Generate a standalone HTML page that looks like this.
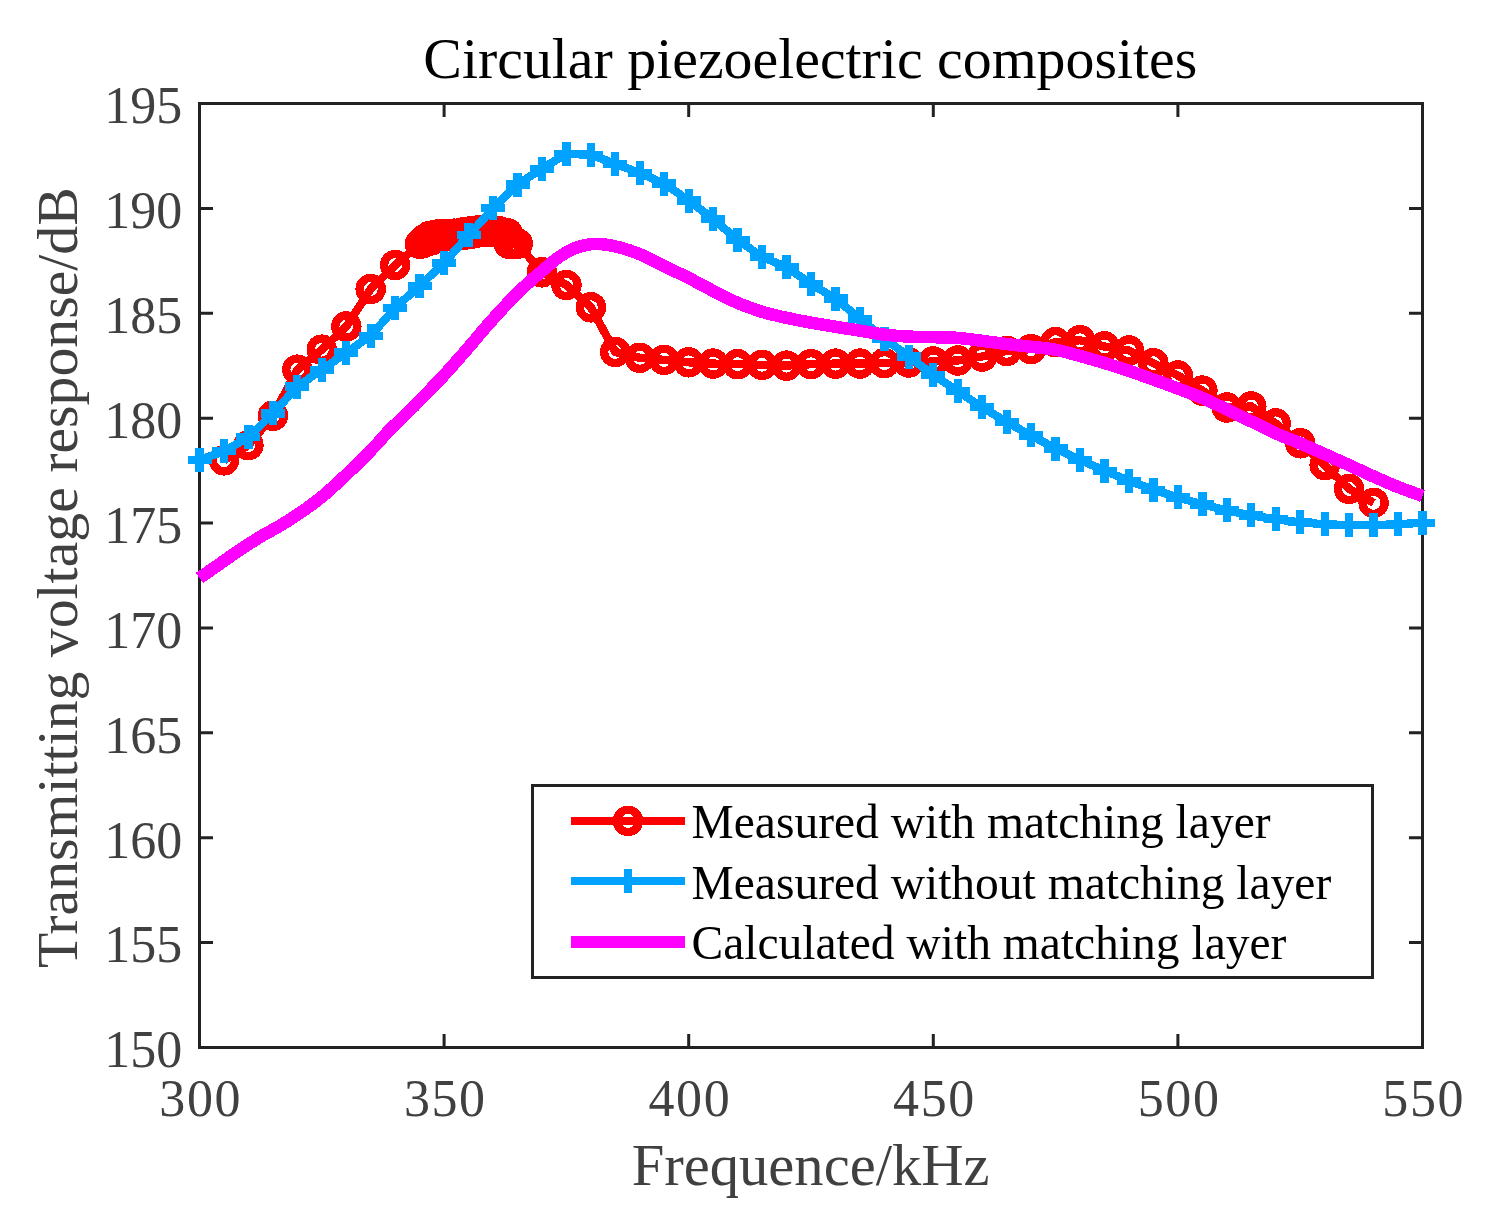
<!DOCTYPE html>
<html lang="en"><head><meta charset="utf-8"><title>Circular piezoelectric composites</title>
<style>html,body{margin:0;padding:0;background:#fff}svg{display:block}text{font-family:"Liberation Serif",serif}</style></head><body>
<svg width="1510" height="1224" viewBox="0 0 1510 1224">
<rect width="1510" height="1224" fill="#fff"/>
<g stroke="#222222" stroke-width="3" fill="none" stroke-linecap="butt">
<rect x="199.5" y="103.5" width="1223.0" height="944.0"/>
<path d="M444.1 1047.5v-13.5M444.1 103.5v13.5"/>
<path d="M688.7 1047.5v-13.5M688.7 103.5v13.5"/>
<path d="M933.3 1047.5v-13.5M933.3 103.5v13.5"/>
<path d="M1177.9 1047.5v-13.5M1177.9 103.5v13.5"/>
<path d="M199.5 942.6h13.5M1422.5 942.6h-13.5"/>
<path d="M199.5 837.7h13.5M1422.5 837.7h-13.5"/>
<path d="M199.5 732.8h13.5M1422.5 732.8h-13.5"/>
<path d="M199.5 627.9h13.5M1422.5 627.9h-13.5"/>
<path d="M199.5 523.1h13.5M1422.5 523.1h-13.5"/>
<path d="M199.5 418.2h13.5M1422.5 418.2h-13.5"/>
<path d="M199.5 313.3h13.5M1422.5 313.3h-13.5"/>
<path d="M199.5 208.4h13.5M1422.5 208.4h-13.5"/>
</g>
<defs><clipPath id="ax"><rect x="198.0" y="102.0" width="1226.5" height="947.0"/></clipPath></defs>
<g shape-rendering="crispEdges" fill="none" stroke-linejoin="round">
<polyline clip-path="url(#ax)" stroke="#fd0000" stroke-width="8.33" points="224.0,460.3 248.4,445.2 272.9,415.8 297.3,369.7 321.8,349.7 346.3,326.5 370.7,289.0 395.2,265.1 419.9,243.9 422.4,243.2 424.8,238.9 427.2,241.5 429.7,235.9 432.0,240.0 434.6,234.9 437.0,238.0 439.5,234.1 442.0,236.8 444.4,233.9 447.0,236.2 449.2,233.9 452.0,235.6 454.1,233.7 457.0,235.4 459.0,233.4 462.0,235.0 463.9,232.4 467.0,234.3 468.8,231.6 472.0,233.5 473.7,230.9 477.0,232.5 478.6,230.4 482.0,232.0 483.5,230.4 487.0,231.8 488.4,230.4 491.0,231.5 493.2,230.4 498.1,230.9 503.0,232.4 507.9,233.4 508.7,243.6 510.7,243.8 512.8,243.6 515.2,243.8 517.6,243.6 541.9,272.3 566.4,285.0 590.9,307.3 615.3,352.0 639.8,357.8 664.2,359.9 688.7,362.3 713.2,363.6 737.6,364.2 762.1,364.8 786.5,365.6 811.0,364.2 835.5,363.6 859.9,363.6 884.4,363.1 908.8,362.5 933.3,361.5 957.8,360.5 982.2,356.5 1006.7,350.9 1031.1,349.1 1055.6,342.2 1080.1,340.2 1104.5,346.5 1129.0,350.5 1153.4,363.2 1177.9,375.5 1202.4,390.6 1226.8,407.5 1251.3,406.5 1275.7,423.4 1300.2,443.3 1324.7,465.1 1349.1,488.9 1373.6,502.9"/>
<g stroke="#fd0000" stroke-width="8.33">
<circle cx="224.0" cy="460.3" r="11.1"/>
<circle cx="248.4" cy="445.2" r="11.1"/>
<circle cx="272.9" cy="415.8" r="11.1"/>
<circle cx="297.3" cy="369.7" r="11.1"/>
<circle cx="321.8" cy="349.7" r="11.1"/>
<circle cx="346.3" cy="326.5" r="11.1"/>
<circle cx="370.7" cy="289.0" r="11.1"/>
<circle cx="395.2" cy="265.1" r="11.1"/>
<circle cx="419.9" cy="243.9" r="11.1"/>
<circle cx="422.4" cy="243.2" r="11.1"/>
<circle cx="424.8" cy="238.9" r="11.1"/>
<circle cx="427.2" cy="241.5" r="11.1"/>
<circle cx="429.7" cy="235.9" r="11.1"/>
<circle cx="432.0" cy="240.0" r="11.1"/>
<circle cx="434.6" cy="234.9" r="11.1"/>
<circle cx="437.0" cy="238.0" r="11.1"/>
<circle cx="439.5" cy="234.1" r="11.1"/>
<circle cx="442.0" cy="236.8" r="11.1"/>
<circle cx="444.4" cy="233.9" r="11.1"/>
<circle cx="447.0" cy="236.2" r="11.1"/>
<circle cx="449.2" cy="233.9" r="11.1"/>
<circle cx="452.0" cy="235.6" r="11.1"/>
<circle cx="454.1" cy="233.7" r="11.1"/>
<circle cx="457.0" cy="235.4" r="11.1"/>
<circle cx="459.0" cy="233.4" r="11.1"/>
<circle cx="462.0" cy="235.0" r="11.1"/>
<circle cx="463.9" cy="232.4" r="11.1"/>
<circle cx="467.0" cy="234.3" r="11.1"/>
<circle cx="468.8" cy="231.6" r="11.1"/>
<circle cx="472.0" cy="233.5" r="11.1"/>
<circle cx="473.7" cy="230.9" r="11.1"/>
<circle cx="477.0" cy="232.5" r="11.1"/>
<circle cx="478.6" cy="230.4" r="11.1"/>
<circle cx="482.0" cy="232.0" r="11.1"/>
<circle cx="483.5" cy="230.4" r="11.1"/>
<circle cx="487.0" cy="231.8" r="11.1"/>
<circle cx="488.4" cy="230.4" r="11.1"/>
<circle cx="491.0" cy="231.5" r="11.1"/>
<circle cx="493.2" cy="230.4" r="11.1"/>
<circle cx="498.1" cy="230.9" r="11.1"/>
<circle cx="503.0" cy="232.4" r="11.1"/>
<circle cx="507.9" cy="233.4" r="11.1"/>
<circle cx="508.7" cy="243.6" r="11.1"/>
<circle cx="510.7" cy="243.8" r="11.1"/>
<circle cx="512.8" cy="243.6" r="11.1"/>
<circle cx="515.2" cy="243.8" r="11.1"/>
<circle cx="517.6" cy="243.6" r="11.1"/>
<circle cx="541.9" cy="272.3" r="11.1"/>
<circle cx="566.4" cy="285.0" r="11.1"/>
<circle cx="590.9" cy="307.3" r="11.1"/>
<circle cx="615.3" cy="352.0" r="11.1"/>
<circle cx="639.8" cy="357.8" r="11.1"/>
<circle cx="664.2" cy="359.9" r="11.1"/>
<circle cx="688.7" cy="362.3" r="11.1"/>
<circle cx="713.2" cy="363.6" r="11.1"/>
<circle cx="737.6" cy="364.2" r="11.1"/>
<circle cx="762.1" cy="364.8" r="11.1"/>
<circle cx="786.5" cy="365.6" r="11.1"/>
<circle cx="811.0" cy="364.2" r="11.1"/>
<circle cx="835.5" cy="363.6" r="11.1"/>
<circle cx="859.9" cy="363.6" r="11.1"/>
<circle cx="884.4" cy="363.1" r="11.1"/>
<circle cx="908.8" cy="362.5" r="11.1"/>
<circle cx="933.3" cy="361.5" r="11.1"/>
<circle cx="957.8" cy="360.5" r="11.1"/>
<circle cx="982.2" cy="356.5" r="11.1"/>
<circle cx="1006.7" cy="350.9" r="11.1"/>
<circle cx="1031.1" cy="349.1" r="11.1"/>
<circle cx="1055.6" cy="342.2" r="11.1"/>
<circle cx="1080.1" cy="340.2" r="11.1"/>
<circle cx="1104.5" cy="346.5" r="11.1"/>
<circle cx="1129.0" cy="350.5" r="11.1"/>
<circle cx="1153.4" cy="363.2" r="11.1"/>
<circle cx="1177.9" cy="375.5" r="11.1"/>
<circle cx="1202.4" cy="390.6" r="11.1"/>
<circle cx="1226.8" cy="407.5" r="11.1"/>
<circle cx="1251.3" cy="406.5" r="11.1"/>
<circle cx="1275.7" cy="423.4" r="11.1"/>
<circle cx="1300.2" cy="443.3" r="11.1"/>
<circle cx="1324.7" cy="465.1" r="11.1"/>
<circle cx="1349.1" cy="488.9" r="11.1"/>
<circle cx="1373.6" cy="502.9" r="11.1"/>
</g>
<polyline clip-path="url(#ax)" stroke="#00a2ff" stroke-width="8.33" points="199.5,460.1 224.0,451.2 248.4,437.3 272.9,413.4 297.3,386.6 321.8,369.7 346.3,352.6 370.7,335.8 395.2,307.8 419.6,285.8 444.1,263.0 468.6,235.3 493.0,208.3 517.5,184.6 541.9,168.7 566.4,153.8 590.9,154.8 615.3,163.8 639.8,173.0 664.2,183.6 688.7,200.5 713.2,219.0 737.6,239.9 762.1,256.8 786.5,267.1 811.0,284.0 835.5,298.5 859.9,318.8 884.4,338.6 908.8,356.5 933.3,375.0 957.8,391.3 982.2,407.2 1006.7,422.1 1031.1,435.4 1055.6,448.5 1080.1,459.8 1104.5,470.7 1129.0,480.7 1153.4,489.7 1177.9,497.4 1202.4,504.4 1226.8,510.4 1251.3,515.4 1275.7,519.3 1300.2,522.3 1324.7,524.3 1349.1,525.3 1373.6,525.3 1398.0,524.3 1422.5,522.7"/>
<path stroke="#00a2ff" stroke-width="8.33" d="M187.5 460.1h24.0M199.5 448.1v24.0M212.0 451.2h24.0M224.0 439.2v24.0M236.4 437.3h24.0M248.4 425.3v24.0M260.9 413.4h24.0M272.9 401.4v24.0M285.3 386.6h24.0M297.3 374.6v24.0M309.8 369.7h24.0M321.8 357.7v24.0M334.3 352.6h24.0M346.3 340.6v24.0M358.7 335.8h24.0M370.7 323.8v24.0M383.2 307.8h24.0M395.2 295.8v24.0M407.6 285.8h24.0M419.6 273.8v24.0M432.1 263.0h24.0M444.1 251.0v24.0M456.6 235.3h24.0M468.6 223.3v24.0M481.0 208.3h24.0M493.0 196.3v24.0M505.5 184.6h24.0M517.5 172.6v24.0M529.9 168.7h24.0M541.9 156.7v24.0M554.4 153.8h24.0M566.4 141.8v24.0M578.9 154.8h24.0M590.9 142.8v24.0M603.3 163.8h24.0M615.3 151.8v24.0M627.8 173.0h24.0M639.8 161.0v24.0M652.2 183.6h24.0M664.2 171.6v24.0M676.7 200.5h24.0M688.7 188.5v24.0M701.2 219.0h24.0M713.2 207.0v24.0M725.6 239.9h24.0M737.6 227.9v24.0M750.1 256.8h24.0M762.1 244.8v24.0M774.5 267.1h24.0M786.5 255.1v24.0M799.0 284.0h24.0M811.0 272.0v24.0M823.5 298.5h24.0M835.5 286.5v24.0M847.9 318.8h24.0M859.9 306.8v24.0M872.4 338.6h24.0M884.4 326.6v24.0M896.8 356.5h24.0M908.8 344.5v24.0M921.3 375.0h24.0M933.3 363.0v24.0M945.8 391.3h24.0M957.8 379.3v24.0M970.2 407.2h24.0M982.2 395.2v24.0M994.7 422.1h24.0M1006.7 410.1v24.0M1019.1 435.4h24.0M1031.1 423.4v24.0M1043.6 448.5h24.0M1055.6 436.5v24.0M1068.1 459.8h24.0M1080.1 447.8v24.0M1092.5 470.7h24.0M1104.5 458.7v24.0M1117.0 480.7h24.0M1129.0 468.7v24.0M1141.4 489.7h24.0M1153.4 477.7v24.0M1165.9 497.4h24.0M1177.9 485.4v24.0M1190.4 504.4h24.0M1202.4 492.4v24.0M1214.8 510.4h24.0M1226.8 498.4v24.0M1239.3 515.4h24.0M1251.3 503.4v24.0M1263.7 519.3h24.0M1275.7 507.3v24.0M1288.2 522.3h24.0M1300.2 510.3v24.0M1312.7 524.3h24.0M1324.7 512.3v24.0M1337.1 525.3h24.0M1349.1 513.3v24.0M1361.6 525.3h24.0M1373.6 513.3v24.0M1386.0 524.3h24.0M1398.0 512.3v24.0M1410.5 522.7h24.0M1422.5 510.7v24.0"/>
<path stroke="#ff00ff" stroke-width="12.50" stroke-linecap="butt" d="M199.5 578.0C202.9 575.6 213.2 568.5 219.9 563.8C226.6 559.1 233.2 554.3 239.8 549.9C246.5 545.5 253.2 541.1 259.8 537.1C266.4 533.1 273.1 529.9 279.7 525.9C286.3 521.9 292.5 518.1 299.6 513.2C306.7 508.3 314.3 503.1 322.5 496.3C330.7 489.5 340.1 480.6 348.9 472.2C357.7 463.8 369.0 452.3 375.4 445.7C381.8 439.1 380.8 439.1 387.3 432.5C393.8 425.9 405.4 414.8 414.2 406.0C423.0 397.2 431.7 388.3 440.0 379.5C448.3 370.7 456.1 361.8 463.8 353.0C471.5 344.2 479.7 334.2 486.4 326.5C493.1 318.8 498.0 313.4 504.2 306.8C510.4 300.2 517.1 293.3 523.8 287.0C530.5 280.7 538.3 274.2 544.3 269.1C550.3 264.0 554.6 260.0 559.7 256.5C564.8 253.0 569.8 250.2 575.0 248.2C580.2 246.1 586.1 244.8 590.9 244.2C595.7 243.6 599.1 243.8 604.0 244.4C608.9 245.0 614.0 245.9 620.0 247.5C626.0 249.1 632.4 251.1 639.8 254.2C647.2 257.3 656.1 262.1 664.2 266.1C672.4 270.1 680.5 273.9 688.7 278.0C696.9 282.1 705.1 286.8 713.2 290.9C721.4 295.0 729.5 299.4 737.6 302.9C745.8 306.4 754.0 309.3 762.1 311.8C770.2 314.3 778.4 316.0 786.5 317.8C794.6 319.6 802.8 321.2 811.0 322.7C819.2 324.2 827.4 325.4 835.5 326.7C843.6 328.0 851.8 329.4 859.9 330.7C868.0 332.0 876.2 333.6 884.4 334.6C892.5 335.6 900.6 336.2 908.8 336.6C916.9 337.0 925.1 337.0 933.3 337.2C941.5 337.4 949.6 337.3 957.8 337.9C965.9 338.5 974.1 339.9 982.2 340.9C990.4 341.9 998.6 343.0 1006.7 344.0C1014.9 345.0 1022.9 345.9 1031.1 346.8C1039.2 347.8 1047.4 348.2 1055.6 349.7C1063.8 351.2 1071.9 353.8 1080.1 356.0C1088.2 358.2 1096.3 360.5 1104.5 363.0C1112.7 365.5 1120.8 368.1 1129.0 370.9C1137.2 373.6 1145.2 376.6 1153.4 379.5C1161.6 382.4 1169.7 385.4 1177.9 388.5C1186.1 391.6 1194.2 394.5 1202.4 398.0C1210.6 401.5 1218.7 405.6 1226.8 409.5C1234.9 413.4 1243.1 417.4 1251.3 421.4C1259.5 425.4 1267.5 429.6 1275.7 433.3C1283.9 437.0 1292.0 439.8 1300.2 443.3C1308.4 446.8 1316.6 450.6 1324.7 454.2C1332.8 457.8 1340.9 461.4 1349.1 465.1C1357.2 468.8 1365.4 472.9 1373.6 476.5C1381.8 480.1 1389.8 483.8 1398.0 487.0C1406.2 490.2 1418.4 494.5 1422.5 496.0"/>
</g>
<g fill="#404040" font-size="52">
<text x="200.7" y="1116.2" text-anchor="middle" letter-spacing="1.6">300</text>
<text x="445.3" y="1116.2" text-anchor="middle" letter-spacing="1.6">350</text>
<text x="689.9" y="1116.2" text-anchor="middle" letter-spacing="1.6">400</text>
<text x="934.5" y="1116.2" text-anchor="middle" letter-spacing="1.6">450</text>
<text x="1179.1" y="1116.2" text-anchor="middle" letter-spacing="1.6">500</text>
<text x="1423.7" y="1116.2" text-anchor="middle" letter-spacing="1.6">550</text>
<text x="182.3" y="1067.3" text-anchor="end">150</text>
<text x="182.3" y="962.4" text-anchor="end">155</text>
<text x="182.3" y="857.5" text-anchor="end">160</text>
<text x="182.3" y="752.6" text-anchor="end">165</text>
<text x="182.3" y="647.7" text-anchor="end">170</text>
<text x="182.3" y="542.9" text-anchor="end">175</text>
<text x="182.3" y="438.0" text-anchor="end">180</text>
<text x="182.3" y="333.1" text-anchor="end">185</text>
<text x="182.3" y="228.2" text-anchor="end">190</text>
<text x="182.3" y="123.3" text-anchor="end">195</text>
</g>
<text x="810.6" y="1184.7" font-size="58.6" fill="#404040" text-anchor="middle">Frequence/kHz</text>
<text transform="translate(77.2 577.6) rotate(-90)" font-size="57.75" fill="#404040" text-anchor="middle">Transmitting voltage response/dB</text>
<text x="810.3" y="78.4" font-size="57.83" fill="#000" text-anchor="middle">Circular piezoelectric composites</text>
<rect x="532.5" y="785.5" width="840" height="192" fill="#fff" stroke="#222222" stroke-width="3"/>
<g shape-rendering="crispEdges" fill="none">
<path stroke="#fd0000" stroke-width="8.33" d="M571 820.9H685"/>
<circle cx="628" cy="820.9" r="11.1" stroke="#fd0000" stroke-width="8.33"/>
<path stroke="#00a2ff" stroke-width="8.33" d="M571 881.3H685M628 869.3V893.3"/>
<path stroke="#ff00ff" stroke-width="12.50" d="M571 941.9H685"/>
</g>
<g fill="#000" font-size="47.5">
<text x="691.5" y="838.3">Measured with matching layer</text>
<text x="691.5" y="898.7">Measured without matching layer</text>
<text x="691.5" y="958.8">Calculated with matching layer</text>
</g>
</svg></body></html>
